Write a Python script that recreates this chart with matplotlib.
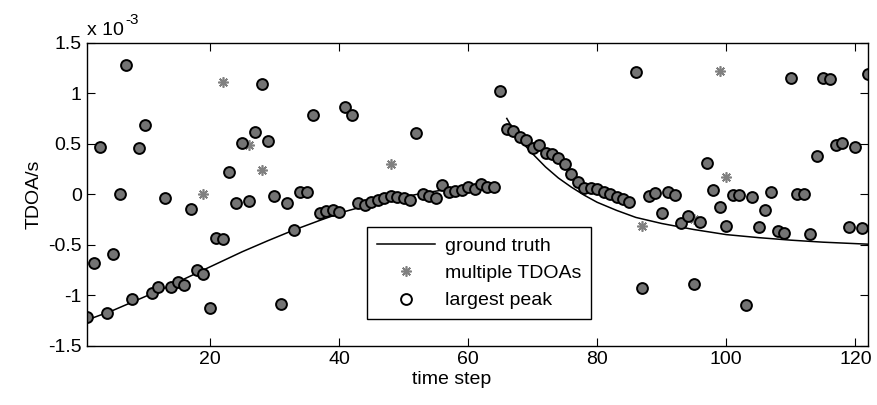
"""
TDOA tracking plot: ground truth vs. detected peaks.
"""
import matplotlib
matplotlib.use("Agg")
import matplotlib.pyplot as plt

plt.rcParams.update({
    "font.family": ["Liberation Sans", "DejaVu Sans"],
    "font.size": 14,
    "axes.unicode_minus": False,
    "axes.linewidth": 1.0,
})

GRAY = "#808080"
FILL = "#747474"

# all TDOA values are in units of 1e-3 s
time_step = list(range(1, 123))
largest_peak = [
    -1.213, -0.678, 0.470, -1.173, -0.595, 0.000, 1.279, -1.040, 0.454, 0.685,
    -0.975, -0.922, -0.040, -0.922, -0.866, -0.900, -0.150, -0.750, -0.790, -1.124,
    -0.437, -0.447, 0.217, -0.090, 0.504, -0.064, 0.619, 1.090, 0.527, -0.015,
    -1.087, -0.090, -0.354, 0.025, 0.019, 0.784, -0.190, -0.168, -0.155, -0.180,
    0.866, 0.784, -0.084, -0.107, -0.074, -0.057, -0.034, -0.014, -0.024, -0.034,
    -0.057, 0.609, 0.000, -0.014, -0.040, 0.090, 0.025, 0.030, 0.042, 0.075,
    0.048, 0.098, 0.075, 0.075, 1.020, 0.646, 0.626, 0.570, 0.537, 0.454,
    0.487, 0.405, 0.395, 0.355, 0.299, 0.200, 0.118, 0.065, 0.065, 0.048,
    0.025, 0.000, -0.024, -0.048, -0.074, 1.213, -0.932, -0.013, 0.009, -0.183,
    0.020, -0.010, -0.288, -0.215, -0.889, -0.272, 0.306, 0.045, -0.123, -0.313,
    -0.005, -0.005, -1.097, -0.031, -0.328, -0.153, 0.025, -0.367, -0.381, 1.153,
    0.005, 0.003, -0.397, 0.378, 1.153, 1.137, 0.484, 0.504, -0.322, 0.464,
    -0.338, 1.190,
]

# extra candidates (besides the largest peak) at some time steps
extra_t = [19, 22, 26, 28, 48, 87, 95, 99, 100]
extra_tdoa = [0.000, 1.114, 0.487, 0.240, 0.299, -0.315, -0.250, 1.215, 0.168]

# ground truth, two segments
gt1_t = [1, 5, 9, 13, 17, 21, 25, 29, 33, 37, 41, 45, 49, 53, 57, 61, 64]
gt1_tdoa = [-1.245, -1.15, -1.04, -0.93, -0.81, -0.69, -0.57, -0.46, -0.355,
            -0.26, -0.17, -0.10, -0.04, 0.01, 0.05, 0.08, 0.10]
gt2_t = [66, 67, 68, 69, 70, 72, 74, 76, 78, 80, 83, 86, 90, 95, 100, 105,
         110, 115, 122]
gt2_tdoa = [0.75, 0.64, 0.55, 0.47, 0.40, 0.27, 0.16, 0.07, -0.01, -0.08,
            -0.16, -0.23, -0.29, -0.35, -0.40, -0.43, -0.455, -0.475, -0.495]

y_ticks = [-1.5, -1, -0.5, 0, 0.5, 1, 1.5]
x_ticks = [20, 40, 60, 80, 100, 120]


def main():
    fig = plt.figure(figsize=(8.77, 4.05), dpi=100)
    ax = fig.add_axes([0.0995, 0.1464, 0.8905, 0.7482])

    ax.plot(gt1_t, gt1_tdoa, color="k", lw=1.1, label="ground truth")
    ax.plot(gt2_t, gt2_tdoa, color="k", lw=1.1)

    multi_t = time_step + extra_t
    multi_y = largest_peak + extra_tdoa
    ax.plot(multi_t, multi_y, ls="none", marker=(8, 2, 0), ms=7.5, mew=1.2,
            color=GRAY, label="multiple TDOAs")
    ax.plot(time_step, largest_peak, ls="none", marker="o", ms=7.8, mew=1.4,
            mfc=FILL, mec="k", label="largest peak")

    ax.set_xlim(1, 122)
    ax.set_ylim(-1.5, 1.5)
    ax.set_xticks(x_ticks)
    ax.set_yticks(y_ticks)
    ax.set_yticklabels([f"{v:g}" for v in y_ticks])
    ax.tick_params(direction="in", length=5.6, width=0.8, top=True, right=True,
                   pad=4, labelsize=14)

    ax.set_xlabel("time step")
    ax.xaxis.set_label_coords(0.467, -0.085)
    ax.set_ylabel("TDOA/s", labelpad=4)
    ax.text(0.0, 1.025, "x 10", transform=ax.transAxes,
            ha="left", va="baseline", fontsize=14)
    ax.text(0.049, 1.062, "-3", transform=ax.transAxes,
            ha="left", va="baseline", fontsize=11)

    leg = ax.legend(loc="lower left", bbox_to_anchor=(0.358, 0.088),
                    fancybox=False, framealpha=1, edgecolor="k",
                    numpoints=1, handlelength=3.0, handletextpad=0.5,
                    labelspacing=0.5, borderpad=0.5, borderaxespad=0,
                    fontsize=14)
    leg.get_frame().set_linewidth(1.0)
    leg.legend_handles[2].set_markerfacecolor("none")

    fig.savefig("out.png", dpi=100)
    plt.close(fig)


if __name__ == "__main__":
    main()
